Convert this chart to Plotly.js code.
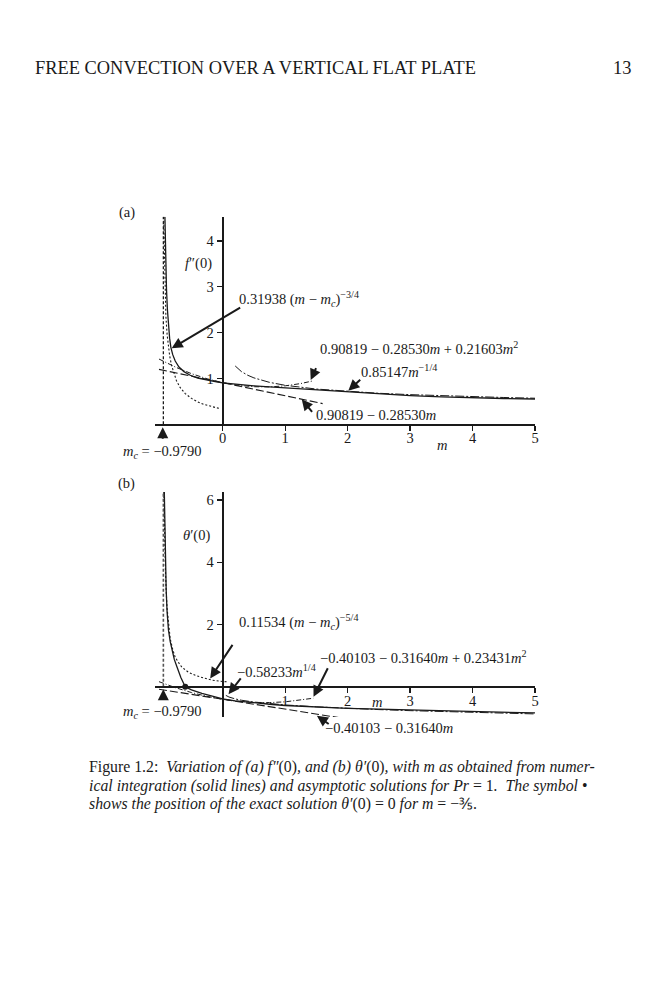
<!DOCTYPE html>
<html>
<head>
<meta charset="utf-8">
<script src="https://cdn.plot.ly/plotly-3.0.1.min.js"></script>
<style>html,body{margin:0;padding:0;background:#fff;}#chart{width:668px;height:1000px;}</style>
</head>
<body>
<div id="chart"></div>
<script>
// ---------- (a) f''(0) ----------
const mA_num  = [-0.925,-0.92,-0.91,-0.9,-0.885,-0.87,-0.85,-0.83,-0.80,-0.76,-0.70,-0.62,-0.52,-0.40,-0.25,-0.10,0,0.25,0.5,0.75,1,1.5,2,2.5,3,3.5,4,4.5,5];
const fA_num  = [4.53,3.96,3.37,2.95,2.5,2.15,1.88,1.68,1.52,1.38,1.25,1.15,1.07,1.01,0.96,0.925,0.906,0.87,0.84,0.815,0.795,0.745,0.70,0.66,0.627,0.60,0.578,0.563,0.552];
const mA_sing = [-0.945,-0.935,-0.925,-0.91,-0.89,-0.87,-0.85,-0.82,-0.78,-0.74,-0.68,-0.60,-0.50,-0.40,-0.30,-0.20,-0.10,-0.03];
const fA_sing = [4.53,3.64,3.07,2.37,1.96,1.70,1.50,1.29,1.09,0.95,0.80,0.67,0.565,0.49,0.435,0.395,0.36,0.345];
const mA_lin  = [-1.02,1.6];
const fA_lin  = [1.199,0.452];
const mA_quad = [-1.02,-0.75,-0.5,-0.25,0,0.25,0.5,0.75,1.0,1.25,1.45];
const fA_quad = [1.424,1.244,1.105,0.993,0.908,0.850,0.820,0.816,0.839,0.889,0.949];
const mA_pow  = [0.2,0.3,0.4,0.5,0.75,1,1.5,2,2.5,3,3.5,4,4.5,5];
const fA_pow  = [1.273,1.150,1.071,1.013,0.915,0.851,0.769,0.716,0.677,0.647,0.623,0.602,0.585,0.569];

// ---------- (b) theta'(0) ----------
const mB_num  = [-0.935,-0.925,-0.912,-0.905,-0.89,-0.868,-0.84,-0.813,-0.775,-0.733,-0.67,-0.6,-0.5,-0.333,-0.15,0,0.2,0.45,0.75,1,1.5,2,2.5,3,3.5,4,4.5,5];
const tB_num  = [6.26,4.6,3.6,3.11,2.4,1.82,1.45,1.18,0.88,0.643,0.3,0,-0.1,-0.21,-0.31,-0.39,-0.45,-0.51,-0.56,-0.60,-0.655,-0.69,-0.715,-0.74,-0.765,-0.79,-0.815,-0.84];
const mB_sing = [-0.942,-0.93,-0.915,-0.893,-0.87,-0.841,-0.8,-0.761,-0.7,-0.653,-0.55,-0.44,-0.3,-0.173,-0.05,0.067];
const tB_sing = [6.26,4.9,3.6,2.57,2.0,1.55,1.2,0.95,0.76,0.63,0.47,0.37,0.28,0.215,0.18,0.16];
const mB_lin  = [-1.02,1.92];
const tB_lin  = [-0.078,-1.008];
const mB_quad = [-1.02,-0.75,-0.5,-0.25,0,0.25,0.5,0.75,1.0,1.25,1.45];
const tB_quad = [0.165,-0.032,-0.184,-0.307,-0.401,-0.466,-0.501,-0.507,-0.483,-0.430,-0.367];
const mB_pow  = [0.05,0.1,0.2,0.3,0.5,0.75,1,1.5,2,2.5,3,3.5,4,4.5,5];
const tB_pow  = [-0.275,-0.327,-0.389,-0.431,-0.490,-0.542,-0.582,-0.644,-0.693,-0.732,-0.766,-0.797,-0.824,-0.848,-0.871];
const exactM  = [-0.6];
const exactT  = [0];

const mcLine  = -0.95;          // drawn position of the m_c dashed line
const fTopA   = 4.53;
const tTopB   = 6.26;

const xTicksA = [0,1,2,3,4,5];
const yTicksA = [1,2,3,4];
const xTicksB = [1,2,3,4,5];
const yTicksB = [2,4,6];

const INK = '#1a1a1a';
const FONT = 'Liberation Serif, Times New Roman, serif';

function line(x, y, dash, w, xa, ya, color) {
  return {x: x, y: y, mode: 'lines', type: 'scatter', xaxis: xa, yaxis: ya,
          line: {color: color || INK, width: w, dash: dash}, hoverinfo: 'skip'};
}

const traces = [
  line(mA_num, fA_num, 'solid', 1.3, 'x', 'y'),
  line(mA_sing, fA_sing, '2px,2px', 1.1, 'x', 'y'),
  line(mA_lin, fA_lin, '8px,3px', 1.1, 'x', 'y'),
  line(mA_quad, fA_quad, '5px,2px,1px,2px', 1.0, 'x', 'y'),
  line(mA_pow, fA_pow, '9px,2px,2px,2px', 1.0, 'x', 'y'),
  line([mcLine, mcLine], [0, fTopA], '3px,2px', 1.3, 'x', 'y'),

  line(mB_num, tB_num, 'solid', 1.3, 'x2', 'y2'),
  line(mB_sing, tB_sing, '2px,2px', 1.1, 'x2', 'y2'),
  line(mB_lin, tB_lin, '8px,3px', 1.1, 'x2', 'y2'),
  line(mB_quad, tB_quad, '5px,2px,1px,2px', 1.0, 'x2', 'y2'),
  line(mB_pow, tB_pow, '9px,2px,2px,2px', 1.0, 'x2', 'y2'),
  line([mcLine, mcLine], [0, tTopB], '3px,2px', 1.6, 'x2', 'y2', '#555'),
  {x: exactM, y: exactT, mode: 'markers', type: 'scatter', xaxis: 'x2', yaxis: 'y2',
   marker: {color: INK, size: 6}, cliponaxis: false, hoverinfo: 'skip'}
];

const axisCommon = {
  showline: true, linewidth: 2, linecolor: INK, ticks: 'outside', ticklen: 5,
  tickwidth: 1.3, tickcolor: INK, showgrid: false, zeroline: false,
  tickfont: {family: FONT, size: 14.5, color: INK}, fixedrange: true
};

const layout = {
  width: 668, height: 1000,
  margin: {l: 0, r: 0, t: 0, b: 0},
  paper_bgcolor: '#ffffff', plot_bgcolor: 'rgba(0,0,0,0)',
  showlegend: false,
  font: {family: FONT, size: 14.5, color: INK},
  xaxis: Object.assign({}, axisCommon, {domain: [0.23204, 0.8009], range: [-1.0839, 5], anchor: 'y',
                        tickvals: xTicksA, ticktext: xTicksA.map(String), ticklabelstandoff: -6}),
  yaxis: Object.assign({}, axisCommon, {domain: [0.5757, 0.7833], range: [0, fTopA], anchor: 'free',
                        position: 0.33338, tickvals: yTicksA, ticktext: yTicksA.map(String)}),
  xaxis2: Object.assign({}, axisCommon, {domain: [0.23204, 0.8009], range: [-1.0839, 5], anchor: 'free',
                        position: 0.3133, tickvals: xTicksB, ticktext: xTicksB.map(String), ticklabelstandoff: -4}),
  yaxis2: Object.assign({}, axisCommon, {domain: [0.283, 0.508], range: [-0.97, tTopB], anchor: 'free',
                        position: 0.33338, tickvals: yTicksB, ticktext: yTicksB.map(String)}),
  annotations: []
};

function txt(text, x, y, xanchor, size, extra) {
  return Object.assign({text: text, x: x, y: y, xref: 'paper', yref: 'paper', xanchor: xanchor || 'left',
    yanchor: 'middle', showarrow: false, font: {family: FONT, size: size || 14.5, color: INK}}, extra || {});
}
function arrow(x, y, ax, ay, xr, yr) {
  return {text: '', x: x, y: y, xref: xr, yref: yr, ax: ax, ay: ay, showarrow: true,
          arrowhead: 2, arrowsize: 1.1, arrowwidth: 2, arrowcolor: INK, standoff: 0, startstandoff: 0};
}

const A = layout.annotations;
// header and page number
A.push(txt('FREE CONVECTION OVER A VERTICAL FLAT PLATE', 0.0494, 0.932, 'left', 18.4));
A.push(txt('13', 0.9476, 0.932, 'right', 18.4));
// panel tags
A.push(txt('(a)', 0.1901, 0.787, 'center', 14.5));
A.push(txt('(b)', 0.1901, 0.517, 'center', 14.5));
// axis titles
A.push(txt('<i>f</i>″(0)', 0.2969, 0.7367, 'center', 14.5));
A.push(txt('<i>θ</i>′(0)', 0.2945, 0.4645, 'center', 14.5));
A.push(txt('<i>m</i>', 0.6612, 0.555, 'center', 14.5));
A.push(txt('<i>m</i>', 0.5639, 0.2983, 'center', 14.5));
// m_c labels and arrows
A.push(txt('<i>m<sub>c</sub></i> = −0.9790', 0.2421, 0.5483, 'center', 14.5));
A.push(txt('<i>m<sub>c</sub></i> = −0.9790', 0.2421, 0.2885, 'center', 14.5));
A.push(arrow(0.2436, 0.5727, 0, 13, 'paper', 'paper'));
A.push(arrow(0.2445, 0.3107, 0, 12, 'paper', 'paper'));
// curve labels (a)
A.push(txt('0.31938 (<i>m</i> − <i>m<sub>c</sub></i>)<sup>−3/4</sup>', 0.3543, 0.7007));
A.push(txt('0.90819 − 0.28530<i>m</i> + 0.21603<i>m</i><sup>2</sup>', 0.4765, 0.6517));
A.push(txt('0.85147<i>m</i><sup>−1/4</sup>', 0.5379, 0.6293));
A.push(txt('0.90819 − 0.28530<i>m</i>', 0.4701, 0.585));
A.push(arrow(-0.817, 1.66, 70, -41.6, 'x', 'y'));
A.push(arrow(1.409, 0.967, 6, -13.3, 'x', 'y'));
A.push(arrow(2.011, 0.734, 13.4, -12.4, 'x', 'y'));
A.push(arrow(1.265, 0.546, 11.6, 14, 'x', 'y'));
// curve labels (b)
A.push(txt('0.11534 (<i>m</i> − <i>m<sub>c</sub></i>)<sup>−5/4</sup>', 0.3543, 0.3783));
A.push(txt('−0.58233<i>m</i><sup>1/4</sup>', 0.3518, 0.3293));
A.push(txt('−0.40103 − 0.31640<i>m</i> + 0.23431<i>m</i><sup>2</sup>', 0.4765, 0.3427));
A.push(txt('−0.40103 − 0.31640<i>m</i>', 0.484, 0.2717));
A.push(arrow(-0.2, 0.27, 23.3, -35, 'x2', 'y2'));
A.push(arrow(0.093, -0.235, 13.4, -17.3, 'x2', 'y2'));
A.push(arrow(1.454, -0.32, 15, -30, 'x2', 'y2'));
A.push(arrow(1.508, -0.93, 13.3, 9.3, 'x2', 'y2'));
// caption
A.push(txt('Figure 1.2:  <i>Variation of (a) f″</i>(0)<i>, and (b) θ′</i>(0)<i>, with m as obtained from numer-</i>', 0.1302, 0.233, 'left', 15.8));
A.push(txt('<i>ical integration (solid lines) and asymptotic solutions for Pr</i> = 1<i>.  The symbol</i> •', 0.1302, 0.214, 'left', 15.8));
A.push(txt('<i>shows the position of the exact solution θ′</i>(0) = 0 <i>for m</i> = −⅗.', 0.1302, 0.196, 'left', 15.8));

Plotly.newPlot('chart', traces, layout, {staticPlot: true, displayModeBar: false});
</script>
</body>
</html>
